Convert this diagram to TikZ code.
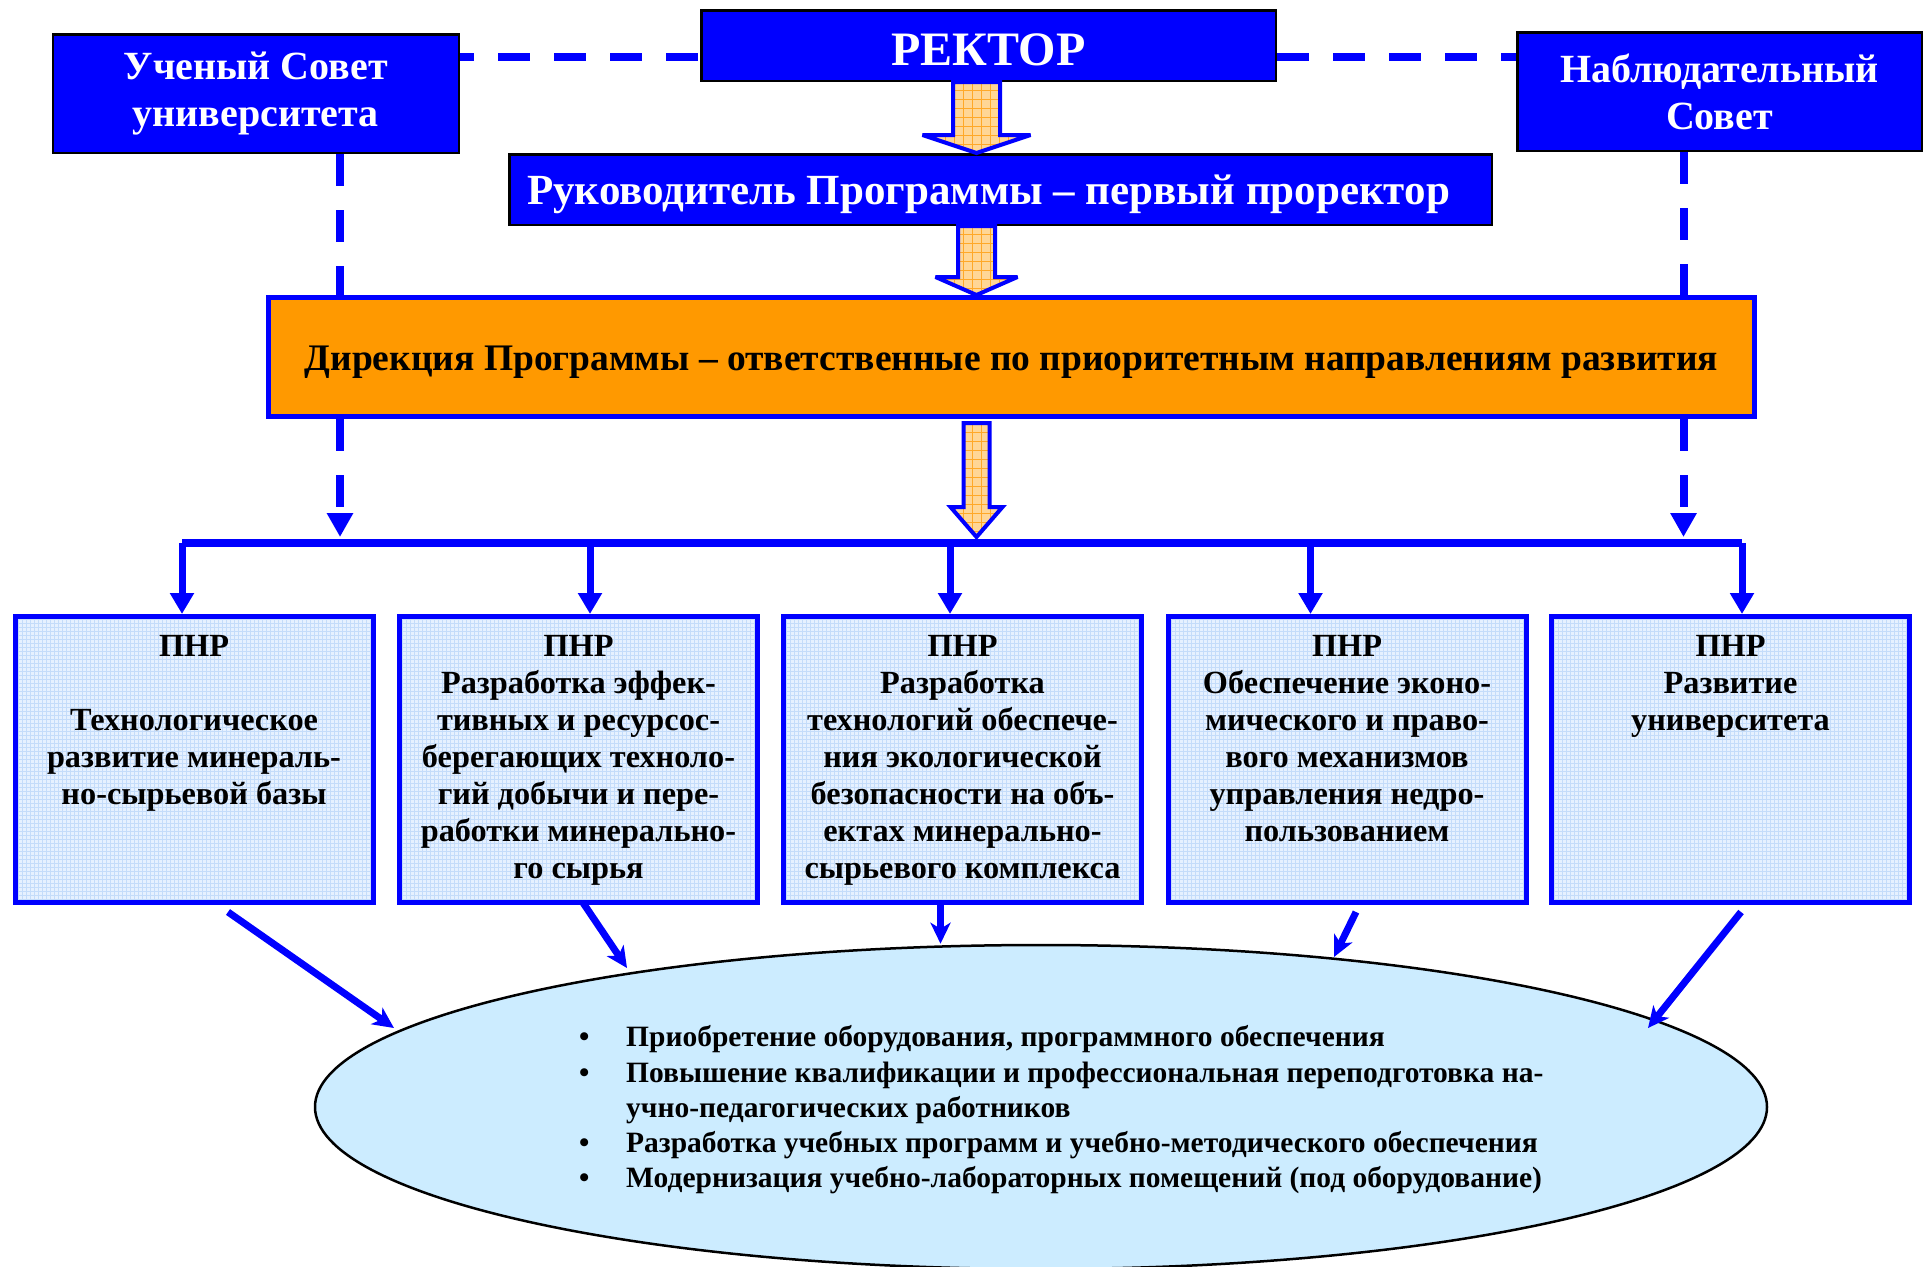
\documentclass[tikz,border=0pt]{standalone}
\usepackage{fontspec}
\setmainfont{Liberation Serif}
\usetikzlibrary{calc,arrows.meta,shapes.geometric}
\definecolor{pblue}{RGB}{0,0,255}
\definecolor{dorange}{RGB}{255,153,0}
\definecolor{pnrfill}{RGB}{230,241,255}
\definecolor{pnrgrid}{RGB}{196,220,250}
\definecolor{afill}{RGB}{255,214,150}
\definecolor{agrid}{RGB}{255,168,40}
\definecolor{efill}{RGB}{204,236,255}
\begin{document}
\begin{tikzpicture}[x=1pt,y=-1pt,
  bluebox/.style={draw=black,line width=2.5pt,fill=pblue,text=white,inner sep=0pt,align=center},
  dirbox/.style={draw=pblue,line width=5pt,fill=dorange,inner sep=0pt},
  pnrbox/.style={draw=pblue,line width=5pt,fill=pnrfill,inner sep=0pt,minimum width=358pt,minimum height=286pt,
    path picture={\draw[pnrgrid,line width=0.8pt] (path picture bounding box.south west) grid[step=4pt] (path picture bounding box.north east);}},
  pnrtext/.style={anchor=north,inner sep=0pt,align=center,font=\fontsize{32.3}{37}\selectfont\bfseries},
  dashconn/.style={draw=pblue,line width=8pt,dash pattern=on 32pt off 24pt},
  bus/.style={draw=pblue,line width=7.5pt},
  drop/.style={draw=pblue,line width=7pt,-{Triangle[length=21pt,width=23pt]}},
  dashdrop/.style={dashconn,-{Triangle[length=24pt,width=25pt]}},
  toell/.style={draw=pblue,line width=7pt,-{Stealth[length=21pt,width=20pt,inset=6pt]}},
  barrow/.style={draw=pblue,line width=4pt,fill=afill,line join=miter,miter limit=2.5,
    path picture={\draw[agrid,line width=1pt] (path picture bounding box.south west) grid[step=9pt] (path picture bounding box.north east);}},
]
\useasboundingbox (0,0) rectangle (1924,1266);

% top row
\node[bluebox,minimum width=406pt,minimum height=118.5pt,font=\fontsize{40}{47}\selectfont\bfseries] (uch) at (255.75,93.5) {Ученый Совет\\университета};
\node[bluebox,minimum width=574.5pt,minimum height=70.5pt] (rect) at (988.5,45.5) {};
\node[text=white,inner sep=0pt,font=\fontsize{48}{50}\selectfont\bfseries] (recttext) at (988.5,49.5) {РЕКТОР};
\node[bluebox,minimum width=404.5pt,minimum height=118.5pt,font=\fontsize{40}{47}\selectfont\bfseries] (nab) at (1719.5,91.5) {Наблюдательный\\Совет};
\node[bluebox,minimum width=982.5pt,minimum height=70.5pt] (ruk) at (1000.5,189.5) {};
\node[text=white,inner sep=0pt,font=\fontsize{43}{47}\selectfont\bfseries] (ruktext) at (988.5,194.5) {Руководитель Программы – первый проректор};
\node[dirbox,minimum width=1486pt,minimum height=119pt] (dir) at (1011.5,357) {};
\node[inner sep=0pt,font=\fontsize{37.5}{42}\selectfont\bfseries] (dirtext) at (1011.5,362) {Дирекция Программы – ответственные по приоритетным направлениям развития};

% PNR boxes
\node[pnrbox] (p1) at (194,759.5) {};
\node[pnrbox] (p2) at (578.5,759.5) {};
\node[pnrbox] (p3) at (962.5,759.5) {};
\node[pnrbox] (p4) at (1347,759.5) {};
\node[pnrbox] (p5) at (1730.5,759.5) {};
\node[pnrtext] (t1) at (194,635) {ПНР\\[37pt]Технологическое\\развитие минераль-\\но-сырьевой базы};
\node[pnrtext] (t2) at (578.5,635) {ПНР\\Разработка эффек-\\тивных и ресурсос-\\берегающих техноло-\\гий добычи и пере-\\работки минерально-\\го сырья};
\node[pnrtext] (t3) at (962.5,635) {ПНР\\Разработка\\технологий обеспече-\\ния экологической\\безопасности на объ-\\ектах минерально-\\сырьевого комплекса};
\node[pnrtext] (t4) at (1347,635) {ПНР\\Обеспечение эконо-\\мического и право-\\вого механизмов\\управления недро-\\пользованием};
\node[pnrtext] (t5) at (1730.5,635) {ПНР\\Развитие\\университета};

% ellipse
\node[ellipse,draw=black,line width=2.5pt,fill=efill,minimum width=1452pt,minimum height=324pt,inner sep=0pt] (ell) at (1041,1107) {};
\node[anchor=west,inner sep=0pt,align=left,font=\fontsize{29.5}{35.3}\selectfont\bfseries] (etext) at (579,1110) {%
\makebox[47pt][l]{•}Приобретение оборудования, программного обеспечения\\
\makebox[47pt][l]{•}Повышение квалификации и профессиональная переподготовка на-\\
\makebox[47pt][l]{}учно-педагогических работников\\
\makebox[47pt][l]{•}Разработка учебных программ и учебно-методического обеспечения\\
\makebox[47pt][l]{•}Модернизация учебно-лабораторных помещений (под оборудование)};

% dashed connectors
\coordinate (dl) at (340,0);
\coordinate (dr) at (1683.5,0);
\coordinate (hy) at (0,57);
\coordinate (tipy) at (0,537);
\draw[dashconn,dash phase=18pt] (uch.east |- hy) -- (rect.west |- hy);
\draw[dashconn] (rect.east |- hy) -- (nab.west |- hy);
\draw[dashconn] (uch.south -| dl) -- (dir.north -| dl);
\draw[dashconn] (nab.south -| dr) -- (dir.north -| dr);
\draw[dashdrop] (dir.south -| dl) -- (dl |- tipy);
\draw[dashdrop] (dir.south -| dr) -- (dr |- tipy);

% bus and drops
\coordinate (b1) at (182,543);
\coordinate (b2) at (590,543);
\coordinate (b3) at (950,543);
\coordinate (b4) at (1310.5,543);
\coordinate (b5) at (1742,543);
\draw[bus] (b1) -- (b5);
\draw[drop] (b1) -- (b1 |- p1.north);
\draw[drop] (b2) -- (b2 |- p2.north);
\draw[drop] (b3) -- (b3 |- p3.north);
\draw[drop] (b4) -- (b4 |- p4.north);
\draw[drop] (b5) -- (b5 |- p5.north);

% block arrows
\coordinate (ax) at (976.5,0);
\coordinate (a1t) at (ax |- rect.south);
\coordinate (a1b) at (ax |- ruk.north);
\draw[barrow] ($(a1t)+(-23.5,0)$) -- ($(a1b)+(-23.5,-18)$) -- ($(a1b)+(-54,-18)$) -- (a1b) -- ($(a1b)+(54,-18)$) -- ($(a1b)+(23.5,-18)$) -- ($(a1t)+(23.5,0)$) -- cycle;
\coordinate (a2t) at (ax |- ruk.south);
\coordinate (a2b) at (ax |- dir.north);
\draw[barrow] ($(a2t)+(-18.5,0)$) -- ($(a2b)+(-18.5,-18)$) -- ($(a2b)+(-41,-18)$) -- (a2b) -- ($(a2b)+(41,-18)$) -- ($(a2b)+(18.5,-18)$) -- ($(a2t)+(18.5,0)$) -- cycle;
\coordinate (a3t) at ($(ax |- dir.south)+(0,4)$);
\coordinate (a3b) at (ax |- tipy);
\draw[barrow] ($(a3t)+(-13,0)$) -- ($(a3b)+(-13,-30)$) -- ($(a3b)+(-26,-30)$) -- (a3b) -- ($(a3b)+(26,-30)$) -- ($(a3b)+(13,-30)$) -- ($(a3t)+(13,0)$) -- cycle;

% arrows to ellipse
\coordinate (s1) at ($(p1.south)+(34,7)$);
\coordinate (s2) at ($(p2.south)+(4,-3)$);
\coordinate (s3) at ($(p3.south)+(-22,0)$);
\coordinate (s4) at ($(p4.south)+(9,7)$);
\coordinate (s5) at ($(p5.south)+(10.5,7)$);
\coordinate (e1) at (394,1028);
\coordinate (e2) at (627,968);
\coordinate (e4) at (1334,957);
\coordinate (e5) at (1648,1028);
\draw[toell] (s1) -- (e1);
\draw[toell] (s2) -- (e2);
\draw[toell] (s3) -- (s3 |- ell.north);
\draw[toell] (s4) -- (e4);
\draw[toell] (s5) -- (e5);
\end{tikzpicture}
\end{document}
